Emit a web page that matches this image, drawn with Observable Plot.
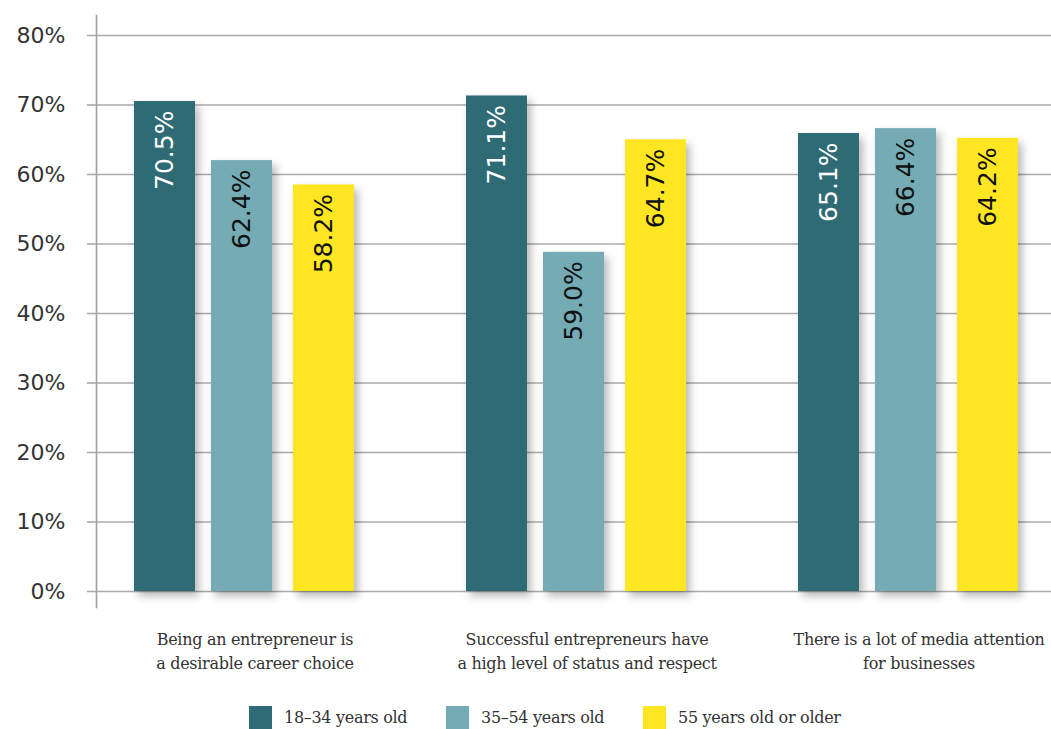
<!DOCTYPE html>
<html>
<head>
<meta charset="utf-8">
<script src="https://cdn.jsdelivr.net/npm/d3@7"></script>
<script src="https://cdn.jsdelivr.net/npm/@observablehq/plot@0.6"></script>
<style>
  body { margin: 0; background: #fff; }
  #chart svg g[aria-label="bar"] { filter: drop-shadow(4px 5px 4px rgba(0,0,0,0.28)); }
  #legend { display: flex; padding-left: 249px; margin-top: 6px; font-family: "DejaVu Serif", serif; font-size: 16px; letter-spacing: -0.3px; color: #333; line-height: 20px; }
  #legend .item { width: 197px; flex: none; display: flex; align-items: center; white-space: nowrap; }
  #legend .sw { width: 23px; height: 23px; margin-right: 12px; flex: none; }
  #chart svg g[aria-label="x-axis tick label"] text { letter-spacing: -0.3px; }
</style>
</head>
<body>
<div id="chart"></div>
<div id="legend"></div>
<script>
// ---- data ----
const categories = [
  "Being an entrepreneur is\na desirable career choice",
  "Successful entrepreneurs have\na high level of status and respect",
  "There is a lot of media attention\nfor businesses"
];
const series = ["18–34 years old", "35–54 years old", "55 years old or older"];
// bar heights as drawn in the picture (percent)
const age18to34 = [70.5, 71.3, 65.9];
const age35to54 = [62.0, 48.8, 66.6];
const age55plus = [58.5, 65.0, 65.2];
// value labels as printed on the bars
const age18to34Labels = ["70.5%", "71.1%", "65.1%"];
const age35to54Labels = ["62.4%", "59.0%", "66.4%"];
const age55plusLabels = ["58.2%", "64.7%", "64.2%"];
const yTicks = [0, 10, 20, 30, 40, 50, 60, 70, 80];

// ---- styles ----
const colors = ["#2e6b75", "#74abb4", "#ffe622"];
const labelColors = ["#ffffff", "#111111", "#111111"];
const offsets = [-77, 0, 82];

const values = [age18to34, age35to54, age55plus];
const labels = [age18to34Labels, age35to54Labels, age55plusLabels];
const rows = values.map((vals, s) =>
  categories.map((c, i) => ({category: c, value: vals[i], label: labels[s][i], series: series[s]}))
);

const marks = [
  Plot.ruleY(yTicks, {stroke: "#ababab", strokeWidth: 1.6}),
  Plot.frame({anchor: "left", stroke: "#a0a0a0", strokeWidth: 1.6})
];
rows.forEach((data, s) => {
  marks.push(Plot.barY(data, {x: "category", y: "value", fill: colors[s], dx: offsets[s]}));
});
rows.forEach((data, s) => {
  marks.push(Plot.text(data, {
    x: "category", y: "value", text: "label", rotate: -90, textAnchor: "end",
    dx: offsets[s], dy: 9, fill: labelColors[s], fontSize: 25, fontFamily: "DejaVu Sans", fontWeight: 400
  }));
});
marks.push(Plot.axisY({
  ticks: yTicks, tickFormat: d => d + "%", tickSize: 9, tickPadding: 22,
  stroke: "#ababab", strokeWidth: 1.6, fill: "#333", fontSize: 22, fontFamily: "DejaVu Sans", fontWeight: 400, label: null
}));
marks.push(Plot.axisX({
  tickSize: 0, tickPadding: 20, lineHeight: 1.5, fontSize: 16, fontFamily: "DejaVu Serif",
  fill: "#333", dx: 13, label: null
}));

const chart = Plot.plot({
  width: 1051,
  height: 700,
  marginLeft: 96,
  marginRight: 0,
  marginTop: 15,
  marginBottom: 93,
  style: {background: "white", overflow: "visible"},
  x: {domain: categories, paddingInner: 0.8165, paddingOuter: 0.344},
  y: {domain: [0, 80], insetTop: 20, insetBottom: 16},
  marks
});
document.getElementById("chart").appendChild(chart);

// legend (below the SVG)
const legend = d3.select("#legend");
series.forEach((name, s) => {
  const item = legend.append("div").attr("class", "item");
  item.append("div").attr("class", "sw").style("background", colors[s]);
  item.append("span").text(name);
});
</script>
</body>
</html>
